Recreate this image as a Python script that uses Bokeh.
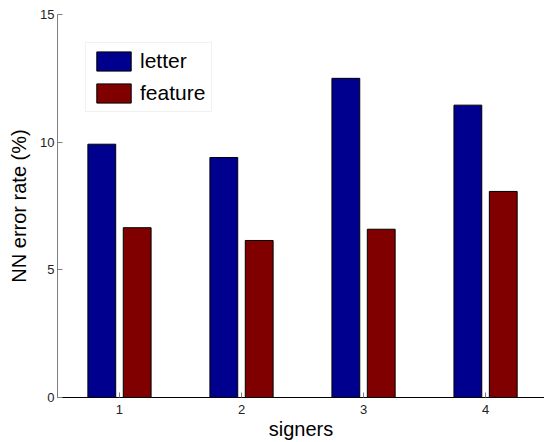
from bokeh.plotting import figure
from bokeh.models import ColumnDataSource, Range1d, FixedTicker, Legend, LegendItem
from bokeh.transform import dodge
from bokeh.embed import file_html
from bokeh.resources import INLINE

# data
signers = [1, 2, 3, 4]
letter = [9.92, 9.40, 12.50, 11.45]
feature = [6.65, 6.15, 6.59, 8.07]
y_ticks = [0, 5, 10, 15]

src = ColumnDataSource(dict(signer=signers, letter=letter, feature=feature))

FONT = "Liberation Sans"

p = figure(width=544, height=442, output_backend="svg", toolbar_location=None,
           x_range=Range1d(0.492, 4.483), y_range=Range1d(0, 15),
           min_border_left=57, min_border_right=0, min_border_top=14, min_border_bottom=45)
p.outline_line_color = None
p.xgrid.grid_line_color = None
p.ygrid.grid_line_color = None

r1 = p.vbar(x=dodge('signer', -0.145, range=p.x_range), top='letter', width=0.228, bottom=0,
            source=src, fill_color="#00008F", line_color="black", line_width=1)
r2 = p.vbar(x=dodge('signer', 0.145, range=p.x_range), top='feature', width=0.228, bottom=0,
            source=src, fill_color="#800000", line_color="black", line_width=1)

# axes
for ax in (p.xaxis[0], p.yaxis[0]):
    ax.major_tick_in = 5
    ax.major_tick_out = 0
    ax.minor_tick_line_color = None
    ax.major_tick_line_color = "#7f7f7f"
    ax.major_label_text_font = FONT
    ax.major_label_text_font_size = "13px"
    ax.major_label_text_color = "#222222"
    ax.axis_label_text_font = FONT
    ax.axis_label_text_font_size = "20px"
    ax.axis_label_text_font_style = "normal"
    ax.axis_label_text_color = "black"

p.xaxis.ticker = FixedTicker(ticks=signers)
p.yaxis.ticker = FixedTicker(ticks=y_ticks)
p.xaxis.axis_line_color = "black"
p.yaxis.axis_line_color = "#7f7f7f"
p.xaxis.axis_label = "signers"
p.yaxis.axis_label = "NN error rate (%)"
p.xaxis.major_label_standoff = 7
p.yaxis.major_label_standoff = 3
p.xaxis.axis_label_standoff = 1
p.yaxis.axis_label_standoff = 7

legend = Legend(items=[LegendItem(label="letter", renderers=[r1]),
                       LegendItem(label="feature", renderers=[r2])],
                location="top_left", margin=28, padding=6, spacing=8,
                glyph_width=43, glyph_height=24, label_height=24, label_standoff=5,
                label_text_font=FONT, label_text_font_size="21px", label_text_color="black",
                border_line_color="#e3e3e3", border_line_width=1,
                background_fill_color="white", background_fill_alpha=1)
p.add_layout(legend)

open("out.html", "w").write(file_html(p, INLINE))
